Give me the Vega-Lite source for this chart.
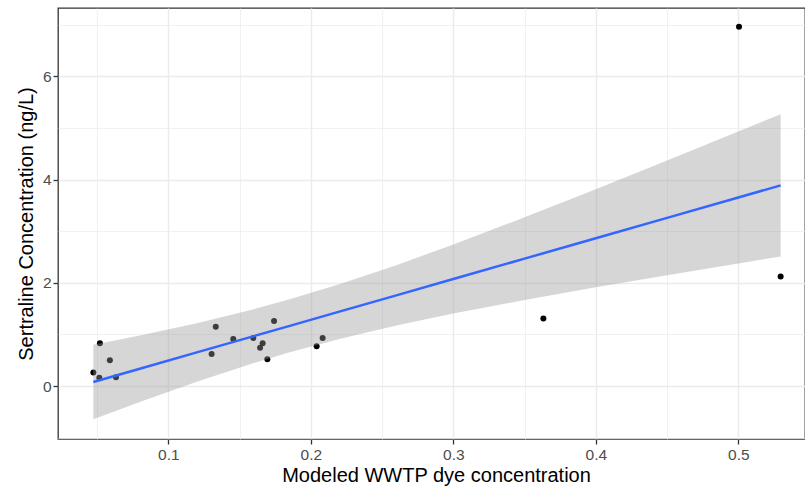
{
  "$schema": "https://vega.github.io/schema/vega-lite/v6.json",
  "width": 747,
  "height": 431,
  "autosize": "none",
  "padding": {"left": 58, "top": 8, "right": 0, "bottom": 52},
  "background": "white",
  "config": {
    "view": {"stroke": "#333333", "strokeWidth": 1.3},
    "axis": {
      "labelFont": "Liberation Sans",
      "titleFont": "Liberation Sans",
      "labelFontSize": 15.5,
      "titleFontSize": 20,
      "titleFontWeight": "normal",
      "labelColor": "#4d4d4d",
      "titleColor": "#000000",
      "domain": false,
      "tickSize": 5,
      "tickWidth": 1.3,
      "gridColor": "#ebebeb"
    }
  },
  "datasets": {
    "points": [
      {"x": 0.0474, "y": 0.26},
      {"x": 0.052, "y": 0.83},
      {"x": 0.0516, "y": 0.16},
      {"x": 0.059, "y": 0.50},
      {"x": 0.0633, "y": 0.17},
      {"x": 0.1304, "y": 0.62},
      {"x": 0.1333, "y": 1.15},
      {"x": 0.1456, "y": 0.91},
      {"x": 0.1597, "y": 0.93},
      {"x": 0.1644, "y": 0.74},
      {"x": 0.1662, "y": 0.83},
      {"x": 0.1695, "y": 0.52},
      {"x": 0.1742, "y": 1.26},
      {"x": 0.2041, "y": 0.77},
      {"x": 0.2083, "y": 0.93},
      {"x": 0.3632, "y": 1.31},
      {"x": 0.5005, "y": 6.96},
      {"x": 0.5297, "y": 2.12}
    ],
    "band": [
      {"x": 0.0474, "fit": 0.078, "lo": -0.646, "hi": 0.801},
      {"x": 0.08, "fit": 0.335, "lo": -0.309, "hi": 0.979},
      {"x": 0.12, "fit": 0.651, "lo": 0.084, "hi": 1.218},
      {"x": 0.16, "fit": 0.967, "lo": 0.445, "hi": 1.489},
      {"x": 0.1846, "fit": 1.161, "lo": 0.647, "hi": 1.675},
      {"x": 0.22, "fit": 1.441, "lo": 0.910, "hi": 1.972},
      {"x": 0.26, "fit": 1.757, "lo": 1.172, "hi": 2.342},
      {"x": 0.30, "fit": 2.073, "lo": 1.404, "hi": 2.742},
      {"x": 0.35, "fit": 2.468, "lo": 1.667, "hi": 3.269},
      {"x": 0.40, "fit": 2.863, "lo": 1.913, "hi": 3.813},
      {"x": 0.45, "fit": 3.258, "lo": 2.147, "hi": 4.369},
      {"x": 0.50, "fit": 3.653, "lo": 2.375, "hi": 4.931},
      {"x": 0.5297, "fit": 3.888, "lo": 2.508, "hi": 5.268}
    ]
  },
  "encoding": {
    "x": {
      "field": "x",
      "type": "quantitative",
      "title": "Modeled WWTP dye concentration",
      "scale": {"domain": [0.0226, 0.5468], "nice": false, "zero": false},
      "axis": {
        "values": [0.05, 0.1, 0.15, 0.2, 0.25, 0.3, 0.35, 0.4, 0.45, 0.5],
        "labelExpr": "round(datum.value*100) % 10 == 0 ? format(datum.value, '.1f') : ''",
        "tickColor": {"condition": {"test": "round(datum.value*100) % 10 != 0", "value": "transparent"}, "value": "#333333"},
        "gridWidth": {"condition": {"test": "round(datum.value*100) % 10 != 0", "value": 0.7}, "value": 1.4},
        "labelPadding": 3,
        "titlePadding": 3,
        "titleX": 378
      }
    }
  },
  "layer": [
    {
      "data": {"name": "points"},
      "mark": {"type": "circle", "size": 36, "color": "#000000", "opacity": 1},
      "encoding": {
        "y": {
          "field": "y",
          "type": "quantitative",
          "title": "Sertraline Concentration (ng/L)",
          "scale": {"domain": [-1.027, 7.325], "nice": false, "zero": false},
          "axis": {
            "values": [-1, 0, 1, 2, 3, 4, 5, 6, 7],
            "labelExpr": "datum.value % 2 == 0 ? format(datum.value, 'd') : ''",
            "tickColor": {"condition": {"test": "datum.value % 2 != 0", "value": "transparent"}, "value": "#333333"},
            "gridWidth": {"condition": {"test": "datum.value % 2 != 0", "value": 0.7}, "value": 1.4},
            "labelPadding": 2,
            "titlePadding": 6
          }
        }
      }
    },
    {
      "data": {"name": "band"},
      "mark": {"type": "area", "color": "#999999", "opacity": 0.4},
      "encoding": {
        "y": {"field": "lo", "type": "quantitative", "title": "Sertraline Concentration (ng/L)", "scale": {"domain": [-1.027, 7.325], "nice": false, "zero": false}},
        "y2": {"field": "hi"}
      }
    },
    {
      "data": {"name": "band"},
      "mark": {"type": "line", "color": "#3366FF", "strokeWidth": 2.5},
      "encoding": {
        "y": {"field": "fit", "type": "quantitative", "title": "Sertraline Concentration (ng/L)", "scale": {"domain": [-1.027, 7.325], "nice": false, "zero": false}}
      }
    }
  ]
}
